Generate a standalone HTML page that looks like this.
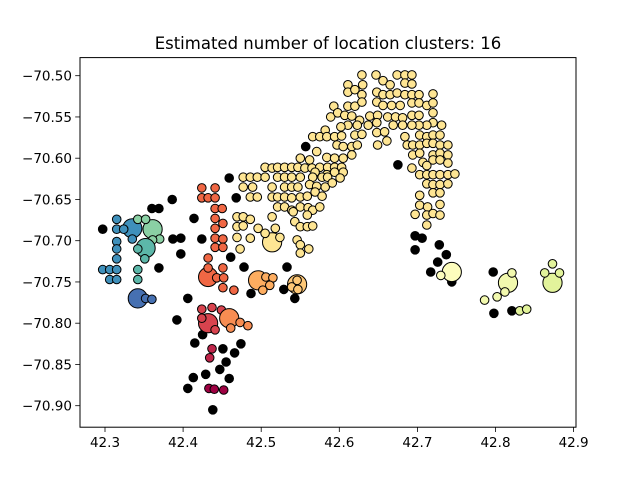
<!DOCTYPE html>
<html><head><meta charset="utf-8"><style>
html,body{margin:0;padding:0;background:#fff}
svg{display:block;font-family:"DejaVu Sans","Liberation Sans",sans-serif}
</style></head><body>
<svg id="chart" width="640" height="480" viewBox="0 0 640 480" xmlns="http://www.w3.org/2000/svg">
<rect width="640" height="480" fill="#fff"/>
<text x="328" y="49" font-size="16.5" text-anchor="middle" fill="#000">Estimated number of location clusters: 16</text>
<defs><clipPath id="clip"><rect x="80" y="57.6" width="496" height="369.6"/></clipPath></defs>
<g id="marks" clip-path="url(#clip)"></g>
<g id="axes"></g>
<rect x="80" y="57.6" width="496" height="369.6" fill="none" stroke="#000" stroke-width="1"/>
</svg>
<script>
const xTicks = [42.3, 42.4, 42.5, 42.6, 42.7, 42.8, 42.9];
const xTickLabels = ["42.3","42.4","42.5","42.6","42.7","42.8","42.9"];
const yTicks = [-70.50,-70.55,-70.60,-70.65,-70.70,-70.75,-70.80,-70.85,-70.90];
const yTickLabels = ["\u221270.50","\u221270.55","\u221270.60","\u221270.65","\u221270.70","\u221270.75","\u221270.80","\u221270.85","\u221270.90"];

const noisePoints = [[42.697,-70.694],[42.706,-70.697],[42.697,-70.711],[42.728,-70.705],[42.737,-70.717],[42.726,-70.726],[42.717,-70.738],[42.744,-70.750],[42.797,-70.738],[42.798,-70.788],[42.821,-70.785],[42.675,-70.608],[42.557,-70.586],[42.459,-70.624],[42.468,-70.648],[42.461,-70.720],[42.478,-70.732],[42.533,-70.732],[42.487,-70.764],[42.529,-70.759],[42.543,-70.770],[42.297,-70.686],[42.360,-70.661],[42.369,-70.661],[42.386,-70.650],[42.387,-70.698],[42.397,-70.697],[42.397,-70.716],[42.369,-70.733],[42.414,-70.673],[42.424,-70.698],[42.406,-70.770],[42.392,-70.796],[42.425,-70.814],[42.415,-70.824],[42.451,-70.831],[42.466,-70.836],[42.474,-70.825],[42.455,-70.847],[42.447,-70.856],[42.429,-70.862],[42.413,-70.866],[42.459,-70.867],[42.406,-70.879],[42.438,-70.905]];

const yellowPoints = [[42.629,-70.499],[42.647,-70.499],[42.656,-70.506],[42.674,-70.499],[42.684,-70.499],[42.693,-70.499],[42.611,-70.511],[42.630,-70.511],[42.665,-70.511],[42.684,-70.509],[42.693,-70.510],[42.611,-70.520],[42.620,-70.517],[42.629,-70.523],[42.648,-70.520],[42.656,-70.523],[42.665,-70.523],[42.674,-70.521],[42.684,-70.523],[42.693,-70.523],[42.702,-70.523],[42.720,-70.522],[42.593,-70.537],[42.611,-70.537],[42.620,-70.537],[42.629,-70.532],[42.648,-70.532],[42.656,-70.536],[42.667,-70.536],[42.678,-70.536],[42.693,-70.533],[42.702,-70.533],[42.712,-70.536],[42.720,-70.533],[42.589,-70.550],[42.598,-70.545],[42.607,-70.548],[42.616,-70.549],[42.626,-70.554],[42.639,-70.549],[42.649,-70.548],[42.662,-70.550],[42.672,-70.550],[42.681,-70.551],[42.693,-70.548],[42.702,-70.548],[42.720,-70.545],[42.720,-70.557],[42.712,-70.560],[42.702,-70.560],[42.693,-70.560],[42.681,-70.560],[42.669,-70.560],[42.648,-70.557],[42.637,-70.560],[42.623,-70.560],[42.611,-70.560],[42.602,-70.562],[42.582,-70.566],[42.566,-70.574],[42.575,-70.574],[42.584,-70.574],[42.594,-70.574],[42.603,-70.573],[42.620,-70.572],[42.629,-70.571],[42.648,-70.569],[42.658,-70.568],[42.684,-70.574],[42.703,-70.572],[42.712,-70.574],[42.720,-70.572],[42.729,-70.572],[42.731,-70.560],[42.571,-70.592],[42.597,-70.584],[42.605,-70.586],[42.616,-70.586],[42.623,-70.584],[42.649,-70.584],[42.661,-70.579],[42.687,-70.584],[42.694,-70.584],[42.703,-70.584],[42.712,-70.582],[42.720,-70.582],[42.729,-70.584],[42.739,-70.584],[42.616,-70.596],[42.694,-70.596],[42.703,-70.594],[42.720,-70.596],[42.729,-70.594],[42.739,-70.596],[42.562,-70.602],[42.550,-70.600],[42.584,-70.599],[42.594,-70.600],[42.605,-70.600],[42.707,-70.605],[42.720,-70.602],[42.729,-70.602],[42.739,-70.606],[42.693,-70.612],[42.712,-70.609],[42.505,-70.611],[42.514,-70.612],[42.521,-70.611],[42.530,-70.611],[42.539,-70.611],[42.547,-70.611],[42.556,-70.612],[42.565,-70.612],[42.575,-70.611],[42.585,-70.611],[42.594,-70.611],[42.603,-70.611],[42.569,-70.617],[42.584,-70.620],[42.594,-70.617],[42.605,-70.617],[42.477,-70.623],[42.486,-70.623],[42.495,-70.623],[42.505,-70.623],[42.521,-70.623],[42.530,-70.623],[42.539,-70.623],[42.550,-70.623],[42.566,-70.623],[42.578,-70.623],[42.585,-70.623],[42.601,-70.624],[42.703,-70.620],[42.712,-70.620],[42.720,-70.620],[42.729,-70.620],[42.739,-70.620],[42.748,-70.619],[42.477,-70.635],[42.489,-70.635],[42.514,-70.635],[42.530,-70.635],[42.539,-70.635],[42.547,-70.635],[42.562,-70.632],[42.571,-70.634],[42.582,-70.635],[42.591,-70.630],[42.712,-70.631],[42.720,-70.632],[42.729,-70.632],[42.739,-70.631],[42.486,-70.647],[42.495,-70.647],[42.514,-70.647],[42.521,-70.647],[42.530,-70.647],[42.539,-70.648],[42.550,-70.647],[42.559,-70.646],[42.569,-70.641],[42.578,-70.646],[42.703,-70.645],[42.720,-70.642],[42.729,-70.642],[42.521,-70.659],[42.530,-70.659],[42.539,-70.663],[42.550,-70.659],[42.560,-70.660],[42.566,-70.663],[42.575,-70.659],[42.703,-70.657],[42.713,-70.659],[42.729,-70.656],[42.469,-70.671],[42.477,-70.671],[42.486,-70.674],[42.514,-70.671],[42.541,-70.665],[42.559,-70.669],[42.697,-70.668],[42.712,-70.669],[42.720,-70.667],[42.729,-70.669],[42.469,-70.683],[42.477,-70.682],[42.496,-70.685],[42.518,-70.685],[42.543,-70.677],[42.550,-70.683],[42.559,-70.683],[42.566,-70.682],[42.712,-70.681],[42.469,-70.696],[42.486,-70.697],[42.505,-70.691],[42.524,-70.696],[42.473,-70.710],[42.546,-70.699],[42.550,-70.705],[42.550,-70.715],[42.561,-70.710]];

const scarletPoints = [[42.424,-70.636],[42.441,-70.636],[42.424,-70.648],[42.432,-70.648],[42.441,-70.648],[42.441,-70.661],[42.450,-70.661],[42.441,-70.673],[42.451,-70.679],[42.441,-70.685],[42.441,-70.697],[42.451,-70.698],[42.441,-70.708],[42.451,-70.708],[42.432,-70.721],[42.432,-70.733],[42.451,-70.733],[42.443,-70.745],[42.452,-70.745],[42.451,-70.757],[42.465,-70.760]];
const orangePoints = [[42.506,-70.744],[42.515,-70.745],[42.511,-70.754],[42.502,-70.760]];
const lightOrangePoints = [[42.539,-70.756],[42.547,-70.759],[42.546,-70.748]];
const redPoints = [[42.424,-70.783],[42.437,-70.781],[42.449,-70.784],[42.424,-70.794],[42.441,-70.808]];
const darkOrangePoints = [[42.473,-70.799],[42.483,-70.803],[42.461,-70.806]];
const crimsonPoints = [[42.437,-70.831],[42.434,-70.842]];
const maroonPoints = [[42.433,-70.879],[42.440,-70.880],[42.452,-70.881]];
const paleYellowPoints = [[42.730,-70.742]];
const paleLimePoints = [[42.821,-70.739],[42.812,-70.762],[42.802,-70.768],[42.786,-70.772]];
const lightGreenPoints = [[42.863,-70.739],[42.873,-70.728],[42.882,-70.739],[42.831,-70.785],[42.840,-70.783]];
const bluePoints = [[42.315,-70.674],[42.315,-70.686],[42.324,-70.686],[42.315,-70.701],[42.315,-70.710],[42.315,-70.722],[42.297,-70.735],[42.306,-70.735],[42.315,-70.735],[42.306,-70.747],[42.315,-70.747],[42.335,-70.698]];
const greenPoints = [[42.342,-70.674],[42.352,-70.674],[42.370,-70.698],[42.361,-70.699]];
const tealPoints = [[42.342,-70.710],[42.351,-70.722],[42.342,-70.735],[42.342,-70.747]];
const darkBluePoints = [[42.352,-70.770],[42.360,-70.771]];

const clusterNames = ["yellow","scarlet","orange","light-orange","red","dark-orange","crimson","maroon","pale-yellow","pale-lime","light-green","blue","green","teal","dark-blue"];
const clusterColors = ["#fee593","#f06744","#fdad60","#fec877","#d8434e","#f88d52","#be2449","#9e0142","#fdfdbd","#f2f9ae","#e2f39b","#3f90bb","#8ad0a4","#5cb7a9","#4670b1"];
const clusterCenters = [[42.514,-70.702],[42.432,-70.744],[42.496,-70.748],[42.546,-70.753],[42.432,-70.800],[42.459,-70.794],null,null,[42.744,-70.738],[42.816,-70.751],[42.873,-70.751],[42.335,-70.685],[42.361,-70.686],[42.352,-70.709],[42.342,-70.770]];
const clusterMembers = [yellowPoints,scarletPoints,orangePoints,lightOrangePoints,redPoints,darkOrangePoints,crimsonPoints,maroonPoints,paleYellowPoints,paleLimePoints,lightGreenPoints,bluePoints,greenPoints,tealPoints,darkBluePoints];

const NS = "http://www.w3.org/2000/svg";
function sx(x){ return 105 + (x - 42.3) * 781; }
function sy(y){ return 75.7 + (-70.5 - y) * 825; }

const marks = document.getElementById('marks');
const axes = document.getElementById('axes');

function dot(x, y, r, fill, name){
  const c = document.createElementNS(NS, 'circle');
  c.setAttribute('cx', sx(x).toFixed(1));
  c.setAttribute('cy', sy(y).toFixed(1));
  c.setAttribute('r', r);
  c.setAttribute('fill', fill);
  c.setAttribute('stroke', '#000');
  c.setAttribute('stroke-width', '1');
  
  
  marks.appendChild(c);
}

noisePoints.forEach(p => dot(p[0], p[1], 4.3, '#000', 'noise-point'));
clusterMembers.forEach((pts, i) => {
  const ctr = clusterCenters[i];
  if (ctr) dot(ctr[0], ctr[1], 9.6, clusterColors[i], 'cluster-center-' + clusterNames[i]);
  pts.forEach(p => dot(p[0], p[1], 4.3, clusterColors[i], 'cluster-point-' + clusterNames[i]));
});

function line(x1,y1,x2,y2,name){
  const l = document.createElementNS(NS,'line');
  l.setAttribute('x1',x1); l.setAttribute('y1',y1);
  l.setAttribute('x2',x2); l.setAttribute('y2',y2);
  l.setAttribute('stroke','#000'); l.setAttribute('stroke-width','0.8');
  
  
  axes.appendChild(l);
}
function label(x,y,txt,anchor,name){
  const t = document.createElementNS(NS,'text');
  t.setAttribute('x',x); t.setAttribute('y',y);
  t.setAttribute('font-size','13.5');
  t.setAttribute('text-anchor',anchor);
  t.setAttribute('fill','#000');
  t.textContent = txt;
  
  
  axes.appendChild(t);
}
xTicks.forEach((v,i) => {
  const px = sx(v);
  line(px,427.2,px,432,'x-tick');
  label(px,447,xTickLabels[i],'middle','x-tick-label');
});
yTicks.forEach((v,i) => {
  const py = sy(v);
  line(75.2,py,80,py,'y-tick');
  label(72,py+5,yTickLabels[i],'end','y-tick-label');
});
</script>
</body></html>
